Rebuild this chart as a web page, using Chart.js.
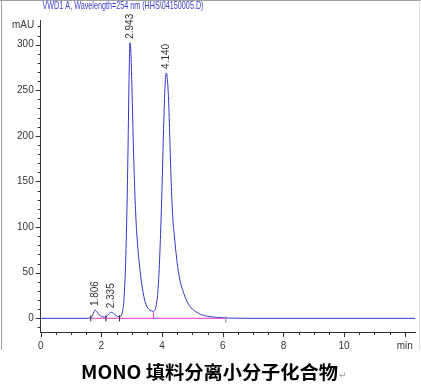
<!DOCTYPE html>
<html>
<head>
<meta charset="utf-8">
<script src="https://cdn.jsdelivr.net/npm/chart.js"></script>
<style>
html,body{margin:0;padding:0;background:#fff;}
#wrap{position:relative;width:421px;height:388px;}
canvas{display:block;}
</style>
</head>
<body>
<div id="wrap"><canvas id="c" width="421" height="388"></canvas></div>
<script>
// ---- data ----
const times = [0,1.5,1.6,1.65,1.7,1.75,1.8,1.85,1.9,1.95,2.0,2.05,2.1,2.15,2.2,2.25,2.3,2.34,2.4,2.45,2.5,2.55,2.6,2.65,2.7,2.75,2.8,2.85,2.88,2.91,2.94,2.97,3.0,3.05,3.1,3.15,3.2,3.25,3.3,3.35,3.4,3.45,3.5,3.55,3.6,3.65,3.7,3.75,3.8,3.85,3.9,3.95,4.0,4.05,4.1,4.14,4.18,4.22,4.26,4.3,4.35,4.4,4.45,4.5,4.55,4.6,4.7,4.8,4.9,5.0,5.1,5.2,5.3,5.4,5.5,5.6,5.7,5.8,6.0,6.2,6.5,7.0,12.35];
const signal = [0,0,0.3,0.8,3,7,9,7.5,5,3,2,1.5,1.2,1.5,3,5,6.3,6.6,5.5,3.8,2.5,2,2,3,8,24,62,132,190,258,302,294,262,195,140,102,78,60,45,33,24,17,13,10.5,9,8.2,7.6,8.4,13,25,50,92,145,208,256,269,260,235,192,150,112,92,75,60,49,40,29,20,14,10,7.5,5.5,4,3,2.2,1.7,1.3,1,0.6,0.3,0.1,0,0];
const peakTimes = [1.806,2.335,2.943,4.140];
const peakHeights = [9,6.6,302,269];
const peakLabels = ["1.806","2.335","2.943","4.140"];
const baselineTimes = [1.65,6.1];
const markTimes = [1.65,2.15,2.6];
const valleyTime = 3.72;
const valleyHeight = 7.6;
const endMarkTime = 6.1;
const yTicks = [0,50,100,150,200,250,300];
const xTicks = [0,2,4,6,8,10];
const titleText = "VWD1 A, Wavelength=254 nm (HHS\\04150005.D)";
const yUnit = "mAU";
const xUnit = "min";
const caption = "MONO 填料分离小分子化合物";

const NARROW = "'Liberation Sans Narrow','Arial Narrow','Liberation Sans',Arial,sans-serif";

const mainPts = times.map((t,i)=>({x:t,y:signal[i]}));
const basePts = baselineTimes.map(t=>({x:t,y:0}));
const markPts = markTimes.map(t=>({x:t,y:0}));

const decor = {
  id:'decor',
  beforeDraw(chart){
    const ctx = chart.ctx;
    ctx.save();
    ctx.strokeStyle = '#a0a0a0';
    ctx.lineWidth = 1;
    ctx.beginPath();
    ctx.moveTo(1.5,0); ctx.lineTo(1.5,350);
    ctx.moveTo(0,0.5); ctx.lineTo(421,0.5);
    ctx.stroke();
    ctx.strokeStyle = '#e0e0e0';
    ctx.beginPath();
    ctx.moveTo(419.5,0); ctx.lineTo(419.5,350);
    ctx.stroke();
    ctx.restore();
  },
  afterDraw(chart){
    const ctx = chart.ctx;
    const xs = chart.scales.x, ys = chart.scales.y;
    ctx.save();
    // minor/major ticks
    ctx.strokeStyle = '#333';
    ctx.lineWidth = 1;
    ctx.beginPath();
    for(let v=-10; v<=320; v+=10){
      const py = Math.round(ys.getPixelForValue(v))+0.5;
      const len = (v%50===0)?5:3;
      ctx.moveTo(xs.left, py); ctx.lineTo(xs.left-len, py);
    }
    for(let v=0; v<=12; v+=0.5){
      const px = Math.round(xs.getPixelForValue(v))+0.5;
      const len = (v%2===0)?5:3;
      ctx.moveTo(px, ys.bottom); ctx.lineTo(px, ys.bottom+len);
    }
    ctx.stroke();
    // peak labels
    ctx.fillStyle = '#333';
    ctx.font = '10px ' + NARROW;
    ctx.textAlign = 'left';
    ctx.textBaseline = 'middle';
    peakLabels.forEach((lab,i)=>{
      const px = xs.getPixelForValue(peakTimes[i]);
      const py = ys.getPixelForValue(peakHeights[i]) - 4;
      ctx.save();
      ctx.translate(px, py);
      ctx.rotate(-Math.PI/2);
      ctx.fillText(lab, 0, 0);
      ctx.restore();
    });
    // title
    ctx.fillStyle = '#3a3ad0';
    ctx.font = '11px ' + NARROW;
    ctx.textBaseline = 'middle';
    const w = ctx.measureText(titleText).width;
    ctx.save();
    ctx.translate(42.5, 5.5);
    ctx.scale(161/w, 1);
    ctx.fillText(titleText, 0, 0);
    ctx.restore();
    // y unit
    ctx.fillStyle = '#333';
    ctx.font = '10px ' + NARROW;
    ctx.fillText(yUnit, 12, 25);
    // caption
    ctx.fillStyle = '#000';
    ctx.font = "bold 18px 'Noto Sans CJK SC', sans-serif";
    ctx.textBaseline = 'middle';
    const cw = ctx.measureText(caption).width;
    ctx.save();
    ctx.translate(81, 372.5);
    ctx.scale(257/cw, 1);
    ctx.fillText(caption, 0, 0);
    ctx.restore();
    ctx.fillStyle = '#999';
    ctx.font = "9px 'DejaVu Sans', sans-serif";
    ctx.fillText('\u21B5', 339, 376);
    ctx.restore();
  }
};

new Chart(document.getElementById('c'), {
  type:'line',
  data:{
    datasets:[
      {label:'baseline', data:basePts, borderColor:'#e23ee2', borderWidth:1, pointRadius:0, order:1},
      {label:'valley', data:[{x:valleyTime,y:0},{x:valleyTime,y:valleyHeight}], borderColor:'#e23ee2', borderWidth:1, pointRadius:0, order:1},
      {label:'marks', data:markPts, showLine:false, pointStyle:'line', rotation:90, pointRadius:3, borderColor:'#222', borderWidth:1, order:0},
      {label:'end', data:[{x:endMarkTime,y:-1.5}], showLine:false, pointStyle:'line', rotation:90, pointRadius:3, borderColor:'#888', borderWidth:1, order:0},
      {label:'signal', data:mainPts, borderColor:'#3535c8', borderWidth:1, pointRadius:0, cubicInterpolationMode:'monotone', order:2}
    ]
  },
  options:{
    responsive:false,
    animation:false,
    events:[],
    layout:{padding:{left:0,right:0,top:20,bottom:36}},
    plugins:{legend:{display:false},tooltip:{enabled:false},title:{display:false}},
    scales:{
      x:{
        type:'linear', min:0, max:12.35,
        afterBuildTicks(s){ s.ticks = xTicks.concat([12]).map(v=>({value:v})); },
        afterFit(s){ s.height = 20; },
        grid:{display:true, drawOnChartArea:false, drawTicks:false},
        border:{display:true, color:'#333', width:1},
        ticks:{padding:8, maxRotation:0, autoSkip:false, color:'#333', font:{family:NARROW, size:10},
          callback:(v)=> v===12 ? xUnit : String(v)}
      },
      y:{
        type:'linear', min:-15, max:327,
        afterBuildTicks(s){ s.ticks = yTicks.map(v=>({value:v})); },
        afterFit(s){ s.width = 40.7; },
        grid:{display:true, drawOnChartArea:false, drawTicks:false},
        border:{display:true, color:'#333', width:1},
        ticks:{padding:7, color:'#333', font:{family:NARROW, size:10}}
      }
    }
  },
  plugins:[decor]
});
</script>
</body>
</html>
